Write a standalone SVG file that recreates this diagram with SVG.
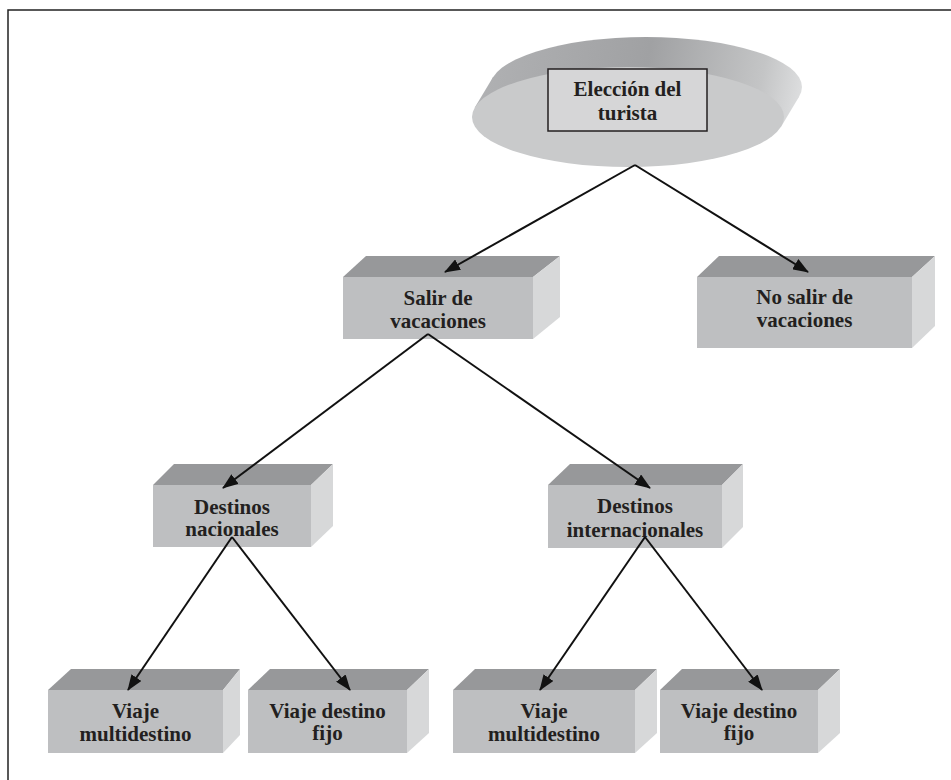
<svg xmlns="http://www.w3.org/2000/svg" width="951" height="780" viewBox="0 0 951 780">
  <defs>
    <linearGradient id="discSide" gradientUnits="userSpaceOnUse" x1="480" y1="60" x2="805" y2="120">
      <stop offset="0" stop-color="#b0b1b3"/>
      <stop offset="0.5" stop-color="#a0a1a3"/>
      <stop offset="0.85" stop-color="#c4c5c6"/>
      <stop offset="1" stop-color="#e2e3e4"/>
    </linearGradient>
    <marker id="arrow" viewBox="0 0 16 12" refX="15" refY="6" markerWidth="16" markerHeight="12" markerUnits="userSpaceOnUse" orient="auto">
      <path d="M0,0 L16,6 L0,12 Z" fill="#111"/>
    </marker>
  </defs>
  <style>
    .front { fill: #bebfc1; }
    .top { fill: #97989a; }
    .side { fill: #d7d8d9; }
    .label { font-family: "Liberation Serif", "Times New Roman", serif; font-weight: bold; font-size: 21px; fill: #231f20; text-anchor: middle; }
    .link { stroke: #111; stroke-width: 2; fill: none; marker-end: url(#arrow); }
  </style>

  <!-- frame -->
  <path d="M8,780 L8,10 L951,10" fill="none" stroke="#222" stroke-width="1.5"/>

  <!-- root: extruded disc with label box -->
  <g id="eleccion">
    <g fill="url(#discSide)">
      <ellipse cx="646" cy="87" rx="156" ry="50"/>
      <polygon points="781.2,126.5 799.2,96.5 492.8,77.5 474.8,107.5"/>
    </g>
    <ellipse cx="628" cy="117" rx="156" ry="50" fill="#c9cacb"/>
    <rect x="548" y="69" width="159" height="62" fill="#d6d6d7" stroke="#231f20" stroke-width="1.5"/>
    <text class="label" x="627.5" y="96">Elección del</text>
    <text class="label" x="627.5" y="120">turista</text>
  </g>

  <g id="salir">
    <polygon class="top" points="343,277 366,256 560,256 533,277"/>
    <polygon class="side" points="533,277 560,256 560,317 533,339"/>
    <rect class="front" x="343" y="277" width="190" height="62"/>
    <text class="label" x="438" y="305">Salir de</text>
    <text class="label" x="438" y="328">vacaciones</text>
  </g>

  <g id="no-salir">
    <polygon class="top" points="697,277 719,256 935,256 912,277"/>
    <polygon class="side" points="912,277 935,256 935,326 912,348"/>
    <rect class="front" x="697" y="277" width="215" height="71"/>
    <text class="label" x="804.5" y="304">No salir de</text>
    <text class="label" x="804.5" y="327">vacaciones</text>
  </g>

  <g id="nacionales">
    <polygon class="top" points="153,485 174,464 333,464 311,485"/>
    <polygon class="side" points="311,485 333,464 333,526 311,547"/>
    <rect class="front" x="153" y="485" width="158" height="62"/>
    <text class="label" x="232" y="514">Destinos</text>
    <text class="label" x="232" y="536">nacionales</text>
  </g>

  <g id="internacionales">
    <polygon class="top" points="548,485 570,464 743,464 722,485"/>
    <polygon class="side" points="722,485 743,464 743,527 722,548"/>
    <rect class="front" x="548" y="485" width="174" height="63"/>
    <text class="label" x="635" y="513">Destinos</text>
    <text class="label" x="635" y="537">internacionales</text>
  </g>

  <g id="nac-multidestino">
    <polygon class="top" points="48,690 71,669 240,669 223,690"/>
    <polygon class="side" points="223,690 240,669 240,735 223,753"/>
    <rect class="front" x="48" y="690" width="175" height="63"/>
    <text class="label" x="135.5" y="718">Viaje</text>
    <text class="label" x="135.5" y="741">multidestino</text>
  </g>

  <g id="nac-fijo">
    <polygon class="top" points="248,690 270,669 429,669 407,690"/>
    <polygon class="side" points="407,690 429,669 429,733 407,753"/>
    <rect class="front" x="248" y="690" width="159" height="63"/>
    <text class="label" x="327.5" y="718">Viaje destino</text>
    <text class="label" x="327.5" y="740">fijo</text>
  </g>

  <g id="int-multidestino">
    <polygon class="top" points="453,690 475,669 657,669 635,690"/>
    <polygon class="side" points="635,690 657,669 657,733 635,753"/>
    <rect class="front" x="453" y="690" width="182" height="63"/>
    <text class="label" x="544" y="718">Viaje</text>
    <text class="label" x="544" y="741">multidestino</text>
  </g>

  <g id="int-fijo">
    <polygon class="top" points="660,690 682,669 840,669 818,690"/>
    <polygon class="side" points="818,690 840,669 840,733 818,753"/>
    <rect class="front" x="660" y="690" width="158" height="63"/>
    <text class="label" x="739" y="718">Viaje destino</text>
    <text class="label" x="739" y="740">fijo</text>
  </g>

  <g id="connectors">
    <line class="link" x1="635" y1="165" x2="445" y2="272"/>
    <line class="link" x1="635" y1="165" x2="808" y2="272"/>
    <line class="link" x1="428" y1="334" x2="223" y2="488"/>
    <line class="link" x1="428" y1="334" x2="650" y2="488"/>
    <line class="link" x1="232" y1="537" x2="128" y2="690"/>
    <line class="link" x1="232" y1="537" x2="350" y2="690"/>
    <line class="link" x1="645" y1="537" x2="540" y2="690"/>
    <line class="link" x1="645" y1="537" x2="762" y2="690"/>
  </g>
</svg>
